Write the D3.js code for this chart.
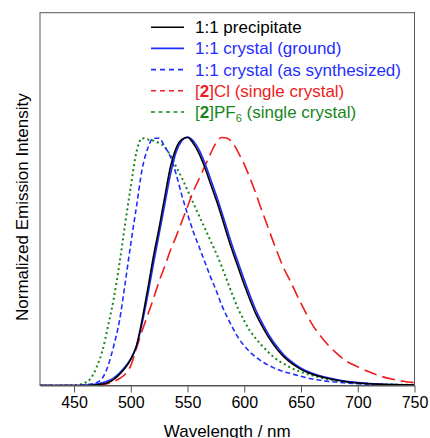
<!DOCTYPE html>
<html lang="en">
	<head>
		<meta charset="utf-8">
		<title>Emission spectra</title>
		<script src="https://d3js.org/d3.v7.min.js"></script>
		<style type="text/css">
			body {
				margin: 0;
				background-color: white;
			}
			text {
				font-family: "Liberation Sans", Arial, Helvetica, sans-serif;
			}
		</style>
	</head>
	<body>
		<script type="text/javascript">

			//Wavelength grid (nm), shared by every spectrum
			var wavelengths = [420, 440, 450, 455, 460, 465, 470, 475, 480, 485, 490, 495, 500, 505, 510, 515, 520, 525, 530, 535,
							540, 545, 550, 555, 560, 565, 570, 575, 580, 585, 590, 595, 600, 605, 610, 615, 620, 625, 630, 635,
							640, 650, 660, 670, 680, 690, 700, 710, 720, 730, 740, 750];

			//Normalized intensities
			var precipitate = [0, 0, 0, 0, 0, 0.001, 0.003, 0.006, 0.012, 0.025, 0.045, 0.07, 0.105, 0.16, 0.265, 0.39, 0.52, 0.635, 0.76, 0.88,
							0.955, 0.99, 0.998, 0.975, 0.935, 0.88, 0.815, 0.75, 0.68, 0.605, 0.535, 0.47, 0.405, 0.345, 0.29, 0.245, 0.205, 0.17, 0.14, 0.115,
							0.095, 0.065, 0.045, 0.032, 0.022, 0.015, 0.01, 0.007, 0.005, 0.004, 0.003, 0.002];

			var crystalGround = [0, 0, 0, 0, 0.001, 0.003, 0.006, 0.011, 0.019, 0.031, 0.05, 0.075, 0.108, 0.158, 0.25, 0.365, 0.49, 0.61, 0.73, 0.85,
							0.94, 0.985, 1.0, 0.985, 0.95, 0.898, 0.835, 0.77, 0.7, 0.627, 0.555, 0.49, 0.425, 0.363, 0.306, 0.259, 0.217, 0.18, 0.15, 0.123,
							0.102, 0.07, 0.049, 0.035, 0.025, 0.017, 0.012, 0.008, 0.006, 0.004, 0.003, 0.002];

			var crystalSynth = [0, 0, 0, 0.001, 0.003, 0.006, 0.012, 0.03, 0.08, 0.16, 0.26, 0.41, 0.57, 0.72, 0.87, 0.955, 0.995, 0.995, 0.96, 0.92,
							0.85, 0.765, 0.69, 0.62, 0.56, 0.5, 0.44, 0.385, 0.325, 0.275, 0.23, 0.19, 0.16, 0.135, 0.115, 0.098, 0.085, 0.073, 0.063, 0.055,
							0.049, 0.037, 0.026, 0.019, 0.014, 0.01, 0.007, 0.005, 0.003, 0.002, 0.002, 0.001];

			var chloride = [0, 0, 0, 0, 0, 0, 0.001, 0.003, 0.008, 0.016, 0.028, 0.045, 0.08, 0.15, 0.22, 0.285, 0.35, 0.42, 0.48, 0.545,
							0.6, 0.66, 0.72, 0.78, 0.83, 0.88, 0.93, 0.975, 0.998, 0.995, 0.975, 0.935, 0.89, 0.835, 0.775, 0.71, 0.648, 0.585, 0.525, 0.47,
							0.425, 0.33, 0.245, 0.183, 0.135, 0.098, 0.075, 0.055, 0.038, 0.026, 0.017, 0.011];

			var hexafluoro = [0, 0, 0.001, 0.004, 0.012, 0.03, 0.075, 0.14, 0.24, 0.35, 0.49, 0.65, 0.8, 0.94, 0.995, 0.99, 0.985, 0.975, 0.96, 0.925,
							0.88, 0.835, 0.785, 0.735, 0.685, 0.635, 0.585, 0.535, 0.48, 0.42, 0.36, 0.305, 0.26, 0.22, 0.19, 0.163, 0.14, 0.118, 0.1, 0.087,
							0.074, 0.055, 0.04, 0.029, 0.021, 0.015, 0.01, 0.007, 0.005, 0.004, 0.003, 0.002];

			var xTicks = [450, 500, 550, 600, 650, 700, 750];

			var series = [
				{ name: "1:1 precipitate", values: precipitate, color: "#000000", dash: null, legendDash: null, width: 1.6 },
				{ name: "1:1 crystal (ground)", values: crystalGround, color: "#1f2eff", dash: null, legendDash: null, width: 1.6 },
				{ name: "1:1 crystal (as synthesized)", values: crystalSynth, color: "#1f2eff", dash: "5,3", legendDash: "5,4", width: 1.6 },
				{ name: "Cl (single crystal)", values: chloride, color: "#ee1c1c", dash: "13,6", legendDash: "5,4", width: 1.6 },
				{ name: "PF6 (single crystal)", values: hexafluoro, color: "#17861a", dash: "2,3", legendDash: "4,3.5", width: 2 }
			];

			//Width and height
			var w = 430;
			var h = 438;
			var plotLeft = 40, plotRight = 414.5, plotTop = 12.7, plotBottom = 385.5;

			//Create scale functions
			var xScale = d3.scaleLinear()
					.domain([420, 750])
					.range([plotLeft, plotRight]);

			var yScale = d3.scaleLinear()
					.domain([0, 1.5])
					.range([plotBottom, plotTop]);

			//Create SVG element
			var svg = d3.select("body")
						.append("svg")
						.attr("width", w)
						.attr("height", h);

			var line = d3.line()
					.x(function(d, i) { return xScale(wavelengths[i]); })
					.y(function(d) { return yScale(d); })
					.curve(d3.curveMonotoneX);

			svg.append("defs").append("clipPath")
				.attr("id", "plotclip")
				.append("rect")
				.attr("x", plotLeft)
				.attr("y", plotTop)
				.attr("width", plotRight - plotLeft)
				.attr("height", plotBottom - plotTop);

			//Create lines
			svg.append("g")
				.attr("clip-path", "url(#plotclip)")
				.selectAll("path")
				.data(series.slice().reverse())
				.enter()
				.append("path")
				.attr("d", function(d) { return line(d.values); })
				.attr("fill", "none")
				.attr("stroke", function(d) { return d.color; })
				.attr("stroke-width", function(d) { return d.width; })
				.attr("stroke-dasharray", function(d) { return d.dash; });

			//Frame
			svg.append("rect")
				.attr("x", plotLeft)
				.attr("y", plotTop)
				.attr("width", plotRight - plotLeft)
				.attr("height", plotBottom - plotTop)
				.attr("fill", "none")
				.attr("stroke", "#555555")
				.attr("stroke-width", 1);

			//Create X axis
			var xAxis = d3.axisBottom()
							.scale(xScale)
							.tickValues(xTicks)
							.tickSize(7)
							.tickSizeOuter(0)
							.tickPadding(4);

			var gx = svg.append("g")
				.attr("class", "axis")
				.attr("transform", "translate(0," + plotBottom + ")")
				.call(xAxis);
			gx.select(".domain").attr("stroke", "#555555");
			gx.selectAll(".tick line").attr("stroke", "#555555");
			gx.selectAll(".tick text")
				.attr("font-family", "Liberation Sans, Arial, sans-serif")
				.attr("font-size", "16px")
				.attr("fill", "#000");

			svg.append("text")
				.attr("text-anchor", "middle")
				.attr("x", (plotLeft + plotRight) / 2)
				.attr("y", 437)
				.attr("font-size", "17px")
				.text("Wavelength / nm");

			svg.append("text")
				.attr("text-anchor", "middle")
				.attr("transform", "translate(28," + ((plotTop + plotBottom) / 2 + 8) + ") rotate(-90)")
				.attr("font-size", "17px")
				.text("Normalized Emission Intensity");

			//Legend
			var legend = svg.append("g");
			var rowY = [27.3, 48.4, 69.6, 90.8, 112];

			series.forEach(function(s, i) {
				legend.append("line")
					.attr("x1", 151)
					.attr("x2", 184)
					.attr("y1", rowY[i])
					.attr("y2", rowY[i])
					.attr("stroke", s.color)
					.attr("stroke-width", 1.6)
					.attr("stroke-dasharray", s.legendDash);

				var t = legend.append("text")
					.attr("x", 195)
					.attr("y", rowY[i] + 6)
					.attr("font-size", "17px")
					.attr("fill", s.color);

				if (i === 3) {
					t.append("tspan").text("[");
					t.append("tspan").attr("font-weight", "bold").text("2");
					t.append("tspan").text("]Cl (single crystal)");
				} else if (i === 4) {
					t.append("tspan").text("[");
					t.append("tspan").attr("font-weight", "bold").text("2");
					t.append("tspan").text("]PF");
					t.append("tspan").attr("font-size", "11px").attr("dy", 4).text("6");
					t.append("tspan").attr("dy", -4).text(" (single crystal)");
				} else {
					t.text(s.name);
				}
			});

		</script>
	</body>
</html>
